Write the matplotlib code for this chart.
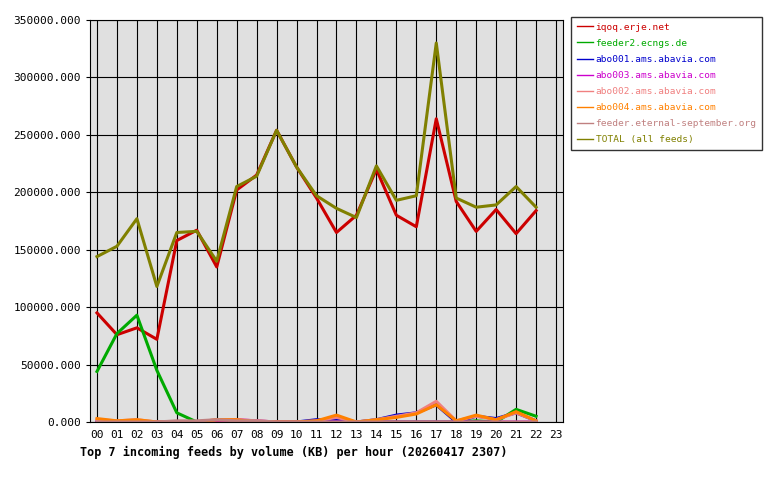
import matplotlib
matplotlib.use("Agg")
import matplotlib.pyplot as plt
from matplotlib.ticker import FuncFormatter

hours = [f"{h:02d}" for h in range(24)]
iqoq = [95000,76000,82000,72000,158000,167000,135000,202000,215000,254000,222000,195000,165000,180000,220000,180000,170000,264000,192000,166000,185000,164000,184000]
feeder2 = [44000,77000,93000,45000,8000,0,0,0,0,0,0,0,0,0,0,0,0,0,0,1000,0,11000,5000]
abo001 = [0,0,0,0,0,0,0,0,0,0,0,2000,2000,0,2000,6000,8000,15000,0,5000,3000,8000,1000]
abo003 = [0,0,0,0,0,0,1000,2000,1000,0,0,0,0,0,0,0,0,0,0,0,0,0,0]
abo002 = [2000,1000,2000,0,0,0,2000,2000,1000,0,0,1000,4000,0,2000,5000,8000,18000,1000,5000,2000,8000,1000]
abo004 = [3000,1000,2000,0,0,0,2000,2000,0,0,0,1000,6000,0,2000,4000,7000,15000,1000,6000,2000,9000,1000]
eternal = [0,0,0,0,1000,1000,2000,1000,1000,0,0,0,0,0,0,0,0,0,0,0,0,0,0]
total = [144000,153000,177000,118000,165000,166000,140000,205000,214000,254000,222000,197000,186000,178000,223000,193000,197000,330000,195000,187000,189000,205000,187000]

series = [
    ("iqoq.erje.net", iqoq, "#cc0000"),
    ("feeder2.ecngs.de", feeder2, "#00aa00"),
    ("abo001.ams.abavia.com", abo001, "#0000cc"),
    ("abo003.ams.abavia.com", abo003, "#cc00cc"),
    ("abo002.ams.abavia.com", abo002, "#f08080"),
    ("abo004.ams.abavia.com", abo004, "#ff8000"),
    ("feeder.eternal-september.org", eternal, "#c08080"),
    ("TOTAL (all feeds)", total, "#808000"),
]

plt.rcParams['font.family'] = ['DejaVu Sans Mono']
fig = plt.figure(figsize=(7.8, 4.8), dpi=100)
ax = fig.add_axes([90/780, 1-422/480, 473/780, 402/480])
ax.set_facecolor("#e0e0e0")
x = list(range(len(iqoq)))
for name, vals, c in series:
    ax.plot(x, vals, color=c, lw=2.2, label=name)
ax.set_xlim(-0.35, 23.35)
ax.set_ylim(0, 350000)
ax.set_xticks(range(24))
ax.set_xticklabels(hours, fontsize=8)
ax.set_yticks(range(0, 350001, 50000))
ax.yaxis.set_major_formatter(FuncFormatter(lambda v, p: f"{v:.3f}"))
ax.tick_params(axis='y', labelsize=8, length=3)
ax.tick_params(axis='x', length=0, pad=6)
ax.grid(True, color="black", lw=0.8)
ax.set_axisbelow(True)
for s in ax.spines.values():
    s.set_color("black")
fig.text(80/780, 1-452/480, "Top 7 incoming feeds by volume (KB) per hour (20260417 2307)",
         fontsize=8.5, fontweight='bold', va='center')
leg = fig.legend(loc='upper left', bbox_to_anchor=(571/780, 1-17/480), fontsize=6.8,
                 frameon=True, fancybox=False, edgecolor='black', handlelength=1.7,
                 handletextpad=0.3, borderpad=0.6, labelspacing=0.75, borderaxespad=0)
leg.get_frame().set_linewidth(1)
for t, (_, _, c) in zip(leg.get_texts(), series):
    t.set_color(c)
for h in leg.get_lines():
    h.set_linewidth(1)
fig.savefig("out.png", dpi=100)
